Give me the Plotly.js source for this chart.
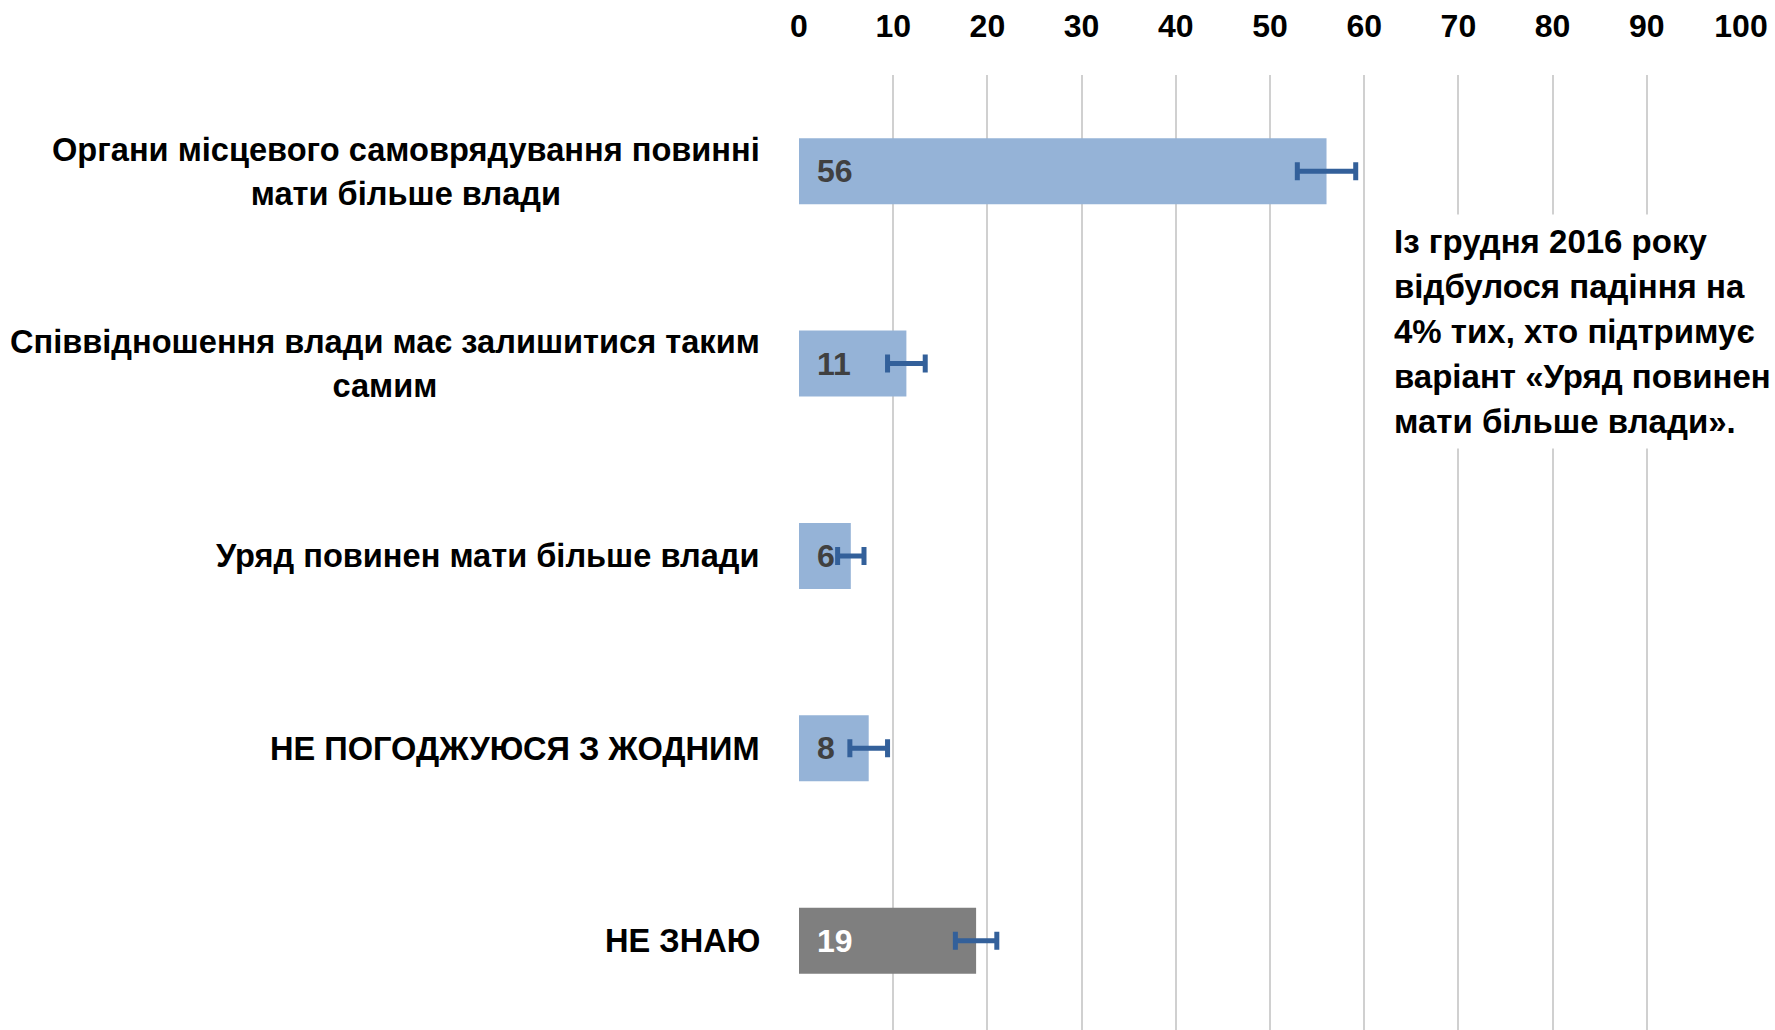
<!DOCTYPE html>
<html>
<head>
<meta charset="utf-8">
<script src="https://cdn.plot.ly/plotly-3.0.1.min.js"></script>
<style>html,body{margin:0;padding:0;background:#fff;}#chart{width:1775px;height:1030px;}</style>
</head>
<body>
<div id="chart"></div>
<script>
// ---- data ----
const categories = [
  "Органи місцевого самоврядування повинні<br>мати більше влади",
  "Співвідношення влади має залишитися таким<br>самим",
  "Уряд повинен мати більше влади",
  "НЕ ПОГОДЖУЮСЯ З ЖОДНИМ",
  "НЕ ЗНАЮ"
];
const values = [56, 11.4, 5.5, 7.4, 18.8];
const errors = [3.1, 2.0, 1.4, 2.0, 2.2];
const valueLabels = ["56", "11", "6", "8", "19"];
const barColors = ["#95b3d7", "#95b3d7", "#95b3d7", "#95b3d7", "#7f7f7f"];
const labelColors = ["#404040", "#404040", "#404040", "#404040", "#ffffff"];
const xTicks = [0, 10, 20, 30, 40, 50, 60, 70, 80, 90, 100];
const noteLines = [
  "Із грудня 2016 року",
  "відбулося падіння на",
  "4% тих, хто підтримує",
  "варіант «Уряд повинен",
  "мати більше влади»."
];

const FONT = "'Liberation Sans', Arial, sans-serif";
const idx = categories.map((_, i) => i);

// wrap each line in a span so that line spacing (em of outer size) is larger than glyph size
function spaced(text, innerSize) {
  return text.split("<br>").map(l => `<span style="font-size:${innerSize}px">${l}</span>`).join("<br>");
}

const trace = {
  type: "bar",
  orientation: "h",
  y: idx,
  x: values,
  marker: { color: barColors, line: { width: 0 } },
  error_x: { type: "data", array: errors, visible: true, color: "#33609a", thickness: 5, width: 9 },
  hoverinfo: "none"
};

const annotations = [];
categories.forEach((c, i) => {
  annotations.push({
    xref: "paper", yref: "y", x: 0, y: i, xshift: -37,
    xanchor: "right", yanchor: "middle", align: "center",
    text: spaced(c, 32.6), showarrow: false,
    font: { family: FONT, size: 34, color: "#000000", weight: "bold" }
  });
  annotations.push({
    xref: "x", yref: "y", x: 0, y: i, xshift: 16,
    xanchor: "left", yanchor: "middle",
    text: valueLabels[i], showarrow: false,
    font: { family: FONT, size: 32, color: labelColors[i], weight: "bold" }
  });
});
annotations.push({
  xref: "x", yref: "paper", x: 62.2, y: 1 - (331 - 75) / 955,
  xanchor: "left", yanchor: "middle", align: "left",
  text: spaced(noteLines.join("<br>"), 33), showarrow: false, bgcolor: "#ffffff", borderpad: 8,
  font: { family: FONT, size: 34.6, color: "#000000", weight: "bold" }
});

const layout = {
  width: 1775, height: 1030,
  margin: { l: 799, r: 34, t: 75, b: 0, pad: 0 },
  paper_bgcolor: "#ffffff", plot_bgcolor: "#ffffff",
  showlegend: false,
  bargap: 0.657,
  font: { family: FONT, color: "#000000" },
  xaxis: {
    side: "top", range: [0, 100], tickvals: xTicks, ticktext: xTicks.map(String),
    showgrid: true, gridcolor: "#d0d0d0", gridwidth: 2, zeroline: false, showline: false,
    ticks: "", ticklabelstandoff: 31,
    tickfont: { family: FONT, size: 32, color: "#000000", weight: "bold" },
    fixedrange: true
  },
  yaxis: {
    range: [4.464, -0.5], showticklabels: false, showgrid: false, zeroline: false,
    showline: false, ticks: "", fixedrange: true
  },
  annotations: annotations
};

Plotly.newPlot("chart", [trace], layout, { displayModeBar: false, staticPlot: true });
</script>
</body>
</html>
